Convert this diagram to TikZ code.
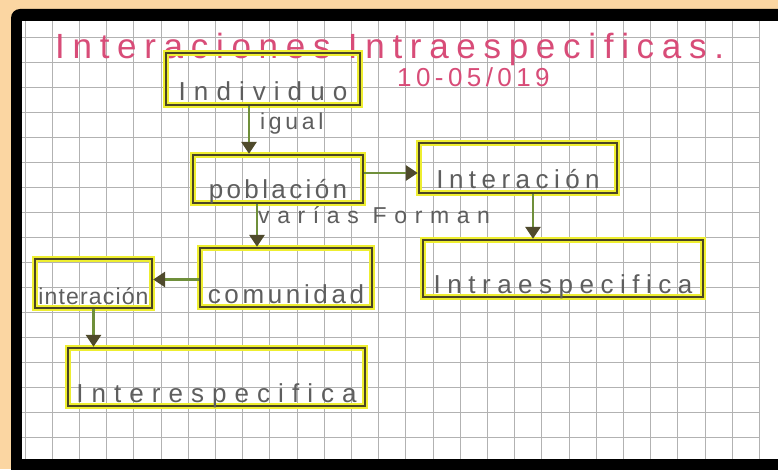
\documentclass[tikz,border=0pt]{standalone}
\usepackage{fontspec}
\newfontfamily\hand{Liberation Sans}
\usetikzlibrary{arrows.meta}

\definecolor{deskbg}{HTML}{FBD6A2}
\definecolor{gridc}{HTML}{B2B2B2}
\definecolor{boxline}{HTML}{4A4424}
\definecolor{marker}{HTML}{EEEE30}
\definecolor{stem}{HTML}{6F8F3A}
\definecolor{tipc}{HTML}{4F4A2C}
\definecolor{pencil}{HTML}{5E5E5E}
\definecolor{ink}{HTML}{D84C78}

\begin{document}
\begin{tikzpicture}[
    x=1pt, y=1pt,
    box/.style={draw=boxline, line width=2.4pt,
      preaction={draw=marker, line width=5.5pt},
      inner sep=2pt, text depth=2pt, text=pencil},
    spread/.style={font=\hand\fontsize{26}{28}\selectfont\addfontfeature{LetterSpace=#1}},
    note/.style={text=pencil, anchor=base west, inner sep=0pt},
    arrow/.style={draw=stem, line width=2.8pt,
      -{Triangle[length=12pt, width=15pt, color=tipc]}}
  ]
    \useasboundingbox (0,0) rectangle (778,469);
    \clip (0,0) rectangle (778,469);
    % photo frame and squared paper
    \fill[deskbg] (0,0) rectangle (778,469);
    \fill[black, rounded corners=9pt] (11,-30) rectangle (810,460);
    \fill[white] (22,10) rectangle (778,448);
    \foreach \i in {0,...,27}
      \draw[gridc, line width=0.9pt] ({25+27.2*\i},10) -- ({25+27.2*\i},448);
    \foreach \j in {0,...,16}
      \draw[gridc, line width=0.9pt] (22,{432-25*\j}) -- (759.4,{432-25*\j});

    % heading
    \node[anchor=base west, inner sep=0pt, text=ink,
      font=\hand\fontsize{35}{38}\selectfont\addfontfeature{LetterSpace=22}]
      (title) at (55,410) {Interaciones Intraespecificas.};
    \node[anchor=base west, inner sep=0pt, text=ink,
      font=\hand\fontsize{26}{28}\selectfont\addfontfeature{LetterSpace=17}]
      (date) at (397,382) {10-05/019};

    % boxes
    \node[box, spread=31, minimum width=194pt, text height=46pt] (indiv) at (263,390) {Individuo};
    \node[box, spread=13, minimum width=170pt, text height=42pt] (pobl) at (278,290) {población};
    \node[box, spread=21, minimum width=198pt, text height=44pt] (inter1) at (518,301) {Interación};
    \node[box, spread=25, minimum width=280pt, text height=51pt] (intra) at (563,200.5) {Intraespecifica};
    \node[box, spread=14, minimum width=172pt, text height=53pt] (comun) at (286,191.5) {comunidad};
    \node[box, font=\hand\fontsize{23}{25}\selectfont\addfontfeature{LetterSpace=5},
      minimum width=117pt, text height=43pt] (inter2) at (93.5,185.5) {interación};
    \node[box, spread=31, minimum width=297pt, text height=52pt] (interes) at (216.5,92) {Interespecifica};

    % connectors
    \draw[arrow] ([xshift=-14pt]indiv.south) -- ([xshift=-14pt]indiv.south |- pobl.north);
    \draw[arrow] ([yshift=6pt]pobl.east) -- ([yshift=6pt]pobl.east -| inter1.west);
    \draw[arrow] ([xshift=15pt]inter1.south) -- ([xshift=15pt]inter1.south |- intra.north);
    \draw[arrow] ([xshift=-21pt]pobl.south) -- ([xshift=-21pt]pobl.south |- comun.north);
    \draw[arrow] ([yshift=-2pt]comun.west) -- ([yshift=-2pt]comun.west -| inter2.east);
    \draw[arrow] (inter2.south) -- (inter2.south |- interes.north);

    % words on the connectors
    \node[note, font=\hand\fontsize{23}{25}\selectfont\addfontfeature{LetterSpace=16}]
      (igual) at (260,339) {igual};
    \node[note, font=\hand\fontsize{23}{25}\selectfont\addfontfeature{LetterSpace=33}]
      (varias) at (258,246) {varías Forman};
  \end{tikzpicture}
\end{document}
